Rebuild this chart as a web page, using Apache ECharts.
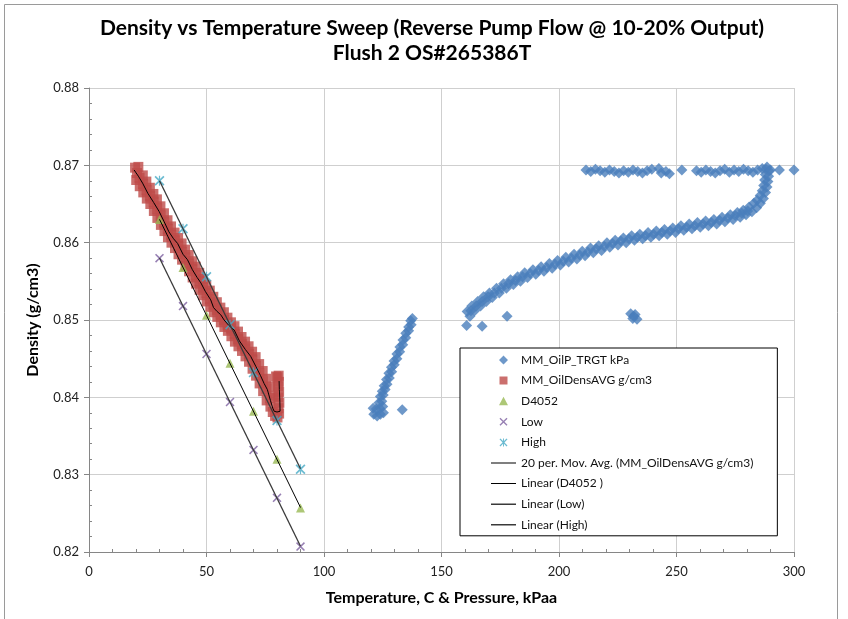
<!DOCTYPE html>
<html>
<head>
<meta charset="utf-8">
<script src="https://cdn.jsdelivr.net/npm/echarts@6/dist/echarts.min.js"></script>
<style>
html,body{margin:0;padding:0;background:#fff;}
#chart{width:848px;height:619px;}
</style>
</head>
<body>
<div id="chart"></div>
<script>
// ---------------- data ----------------
const titleLines = ['Density vs Temperature Sweep (Reverse Pump Flow @ 10-20% Output)', 'Flush 2 OS#265386T'];
const xTitle = 'Temperature, C & Pressure, kPaa';
const yTitle = 'Density (g/cm3)';
const seriesNames = ['MM_OilP_TRGT kPa', 'MM_OilDensAVG g/cm3', 'D4052', 'Low', 'High',
  '20 per. Mov. Avg. (MM_OilDensAVG g/cm3)', 'Linear (D4052 )', 'Linear (Low)', 'Linear (High)'];

// MM_OilP_TRGT kPa : [pressure/temperature, density]
const oilPLower = [
  [121.2,0.8378],[122.6,0.8376],[124.0,0.8378],[125.3,0.8380],
  [120.9,0.8386],[122.3,0.8385],[123.7,0.8386],[125.0,0.8388],
  [123.4,0.8393],[124.6,0.8395],[124.0,0.8401],[125.2,0.8403],
  [124.8,0.8408],[126.0,0.8410],[125.6,0.8415],[126.8,0.8417],
  [126.6,0.8423],[127.8,0.8425],[127.6,0.8431],[128.8,0.8433],
  [128.7,0.8439],[129.9,0.8442],[129.8,0.8447],[131.0,0.8450],
  [131.0,0.8456],[132.2,0.8459],[132.3,0.8465],[133.5,0.8468],
  [133.6,0.8474],[134.8,0.8477],[134.8,0.8483],[136.0,0.8486],
  [136.0,0.8491],[137.1,0.8494],[136.9,0.8499],[137.6,0.8502],
  [133.3,0.8384]
];
const oilPUpper = [
  [160.9,0.8511],[162.1,0.8505],[162.9,0.8518],[164.1,0.8512],[165.4,0.8524],[166.6,0.8518],
  [167.9,0.8530],[169.1,0.8524],[170.4,0.8535],[171.6,0.8529],[173.4,0.8541],[174.6,0.8535],
  [176.4,0.8547],[177.6,0.8541],[179.4,0.8552],[180.6,0.8546],[182.4,0.8556],[183.6,0.8550],
  [185.4,0.8561],[186.6,0.8555],[188.9,0.8565],[190.1,0.8559],[192.4,0.8569],[193.6,0.8563],
  [195.9,0.8573],[197.1,0.8567],[199.4,0.8577],[200.6,0.8571],[202.9,0.8581],[204.1,0.8575],
  [206.4,0.8585],[207.6,0.8579],[209.9,0.8589],[211.1,0.8583],[213.4,0.8593],[214.6,0.8587],
  [216.9,0.8596],[218.1,0.8590],[220.4,0.8600],[221.6,0.8594],[223.9,0.8603],[225.1,0.8597],
  [227.4,0.8606],[228.6,0.8600],[230.9,0.8609],[232.1,0.8603],[234.4,0.8611],[235.6,0.8605],
  [237.9,0.8613],[239.1,0.8607],[241.4,0.8615],[242.6,0.8609],[244.9,0.8617],[246.1,0.8611],
  [248.4,0.8619],[249.6,0.8613],[251.9,0.8622],[253.1,0.8616],[255.4,0.8624],[256.6,0.8618],
  [258.9,0.8626],[260.1,0.8620],[262.4,0.8628],[263.6,0.8622],[265.9,0.8630],[267.1,0.8624],
  [269.4,0.8633],[270.6,0.8627],[272.9,0.8636],[274.1,0.8630],[275.9,0.8639],[277.1,0.8633],
  [278.4,0.8642],[279.6,0.8636],[280.9,0.8646],[282.1,0.8640],[282.9,0.8651],[284.1,0.8645],
  [284.3,0.8655],[285.7,0.8651],[285.6,0.8661],[287.0,0.8657],[286.5,0.8667],[287.9,0.8665],
  [287.1,0.8674],[288.5,0.8672],[287.5,0.8681],[288.9,0.8679],[287.8,0.8688],[289.2,0.8686],
  [288.0,0.8695],[289.4,0.8693]
];
const oilPUpperMid = [
  [162.5,0.8512],[164.8,0.8518],[167.3,0.8524],[169.8,0.8530],[172.5,0.8535],[175.5,0.8541],
  [178.5,0.8547],[181.5,0.8551],[184.5,0.8556],[187.8,0.8560],[191.3,0.8564],[194.8,0.8568],
  [198.3,0.8572],[201.8,0.8576],[205.3,0.8580],[208.8,0.8584],[212.3,0.8588],[215.8,0.8592],
  [219.3,0.8595],[222.8,0.8599],[226.3,0.8602],[229.8,0.8605],[233.3,0.8607],[236.8,0.8609],
  [240.3,0.8611],[243.8,0.8613],[247.3,0.8615],[250.8,0.8618],[254.3,0.8620],[257.8,0.8622],
  [261.3,0.8624],[264.8,0.8626],[268.3,0.8629],[271.8,0.8632],[275.0,0.8635],[277.8,0.8638],
  [280.3,0.8641]
];
const oilPTop = [
  [211.5,0.8694],[213.5,0.8692],[215.5,0.8695],[217.5,0.8693],[219.5,0.8691],[221.5,0.8694],
  [223.5,0.8692],[225.5,0.8690],[227.5,0.8693],[229.5,0.8691],[231.5,0.8694],[233.5,0.8692],
  [235.5,0.8690],[237.5,0.8693],[239.5,0.8695],[242.5,0.8696],[243.5,0.8690],[245.5,0.8692],
  [247.0,0.8689],[252.3,0.8694],[258.5,0.8693],[260.5,0.8691],[262.5,0.8694],[264.5,0.8692],
  [266.5,0.8690],[268.5,0.8693],[270.5,0.8695],[272.5,0.8691],[274.5,0.8694],[276.5,0.8692],
  [278.5,0.8695],[280.5,0.8693],[282.5,0.8691],[284.5,0.8694],[286.5,0.8696],[288.5,0.8698],
  [290.0,0.8694],[293.8,0.8694],[300.0,0.8694]
];
const oilPOutliers = [
  [160.7,0.8493],[167.3,0.8492],[177.9,0.8505],
  [230.5,0.8508],[231.8,0.8505],[233.2,0.8501],[232.4,0.8507],[231.4,0.8502]
];

// MM_OilDensAVG g/cm3 : [temperature, density]
const oilDens = [
  [19.6,0.8697],[21.0,0.8698],[20.4,0.8690],
  [20.1,0.8681],[22.9,0.8687],[21.6,0.8673],[24.4,0.8679],[23.1,0.8665],[25.9,0.8671],
  [24.6,0.8657],[27.4,0.8663],[26.1,0.8650],[28.9,0.8656],[27.6,0.8641],[30.4,0.8647],
  [29.1,0.8632],[31.9,0.8638],[30.6,0.8623],[33.4,0.8629],[32.1,0.8615],[34.9,0.8621],
  [33.6,0.8607],[36.4,0.8613],[35.1,0.8600],[37.9,0.8606],[36.6,0.8593],[39.4,0.8599],
  [38.1,0.8585],[40.9,0.8591],[39.6,0.8578],[42.4,0.8584],[41.1,0.8570],[43.9,0.8576],
  [42.6,0.8563],[45.4,0.8569],[44.1,0.8555],[46.9,0.8561],[45.6,0.8547],[48.4,0.8553],
  [47.1,0.8539],[49.9,0.8545],[48.6,0.8532],[51.4,0.8538],[50.1,0.8524],[52.9,0.8530],
  [51.6,0.8517],[54.4,0.8523],[53.1,0.8510],[55.9,0.8516],[54.6,0.8504],[57.4,0.8510],
  [56.1,0.8497],[58.9,0.8503],[57.6,0.8491],[60.4,0.8497],[59.1,0.8486],[61.9,0.8492],
  [60.6,0.8479],[63.4,0.8485],[62.1,0.8472],[64.9,0.8478],[63.6,0.8466],[66.4,0.8472],
  [65.1,0.8460],[67.9,0.8466],[66.6,0.8453],[69.4,0.8459],[68.1,0.8446],[70.9,0.8452],
  [69.6,0.8437],[72.4,0.8443],[71.1,0.8428],[73.9,0.8434],[72.6,0.8418],[75.4,0.8424],
  [74.1,0.8408],[76.9,0.8414],[75.6,0.8396],[78.4,0.8402],
  [77.2,0.8388],[78.2,0.8381],[79.2,0.8376],[80.2,0.8374],[80.9,0.8379],[80.6,0.8386],
  [81.0,0.8393],[80.5,0.8400],[80.9,0.8407],[80.4,0.8414],[80.8,0.8420],[80.2,0.8426],
  [80.7,0.8428],[79.6,0.8427]
];
const oilDensMid = [
  [21.5,0.8684],[23.0,0.8676],[24.5,0.8668],[26.0,0.8660],[27.5,0.8653],[29.0,0.8644],
  [30.5,0.8635],[32.0,0.8626],[33.5,0.8618],[35.0,0.8610],[36.5,0.8603],[38.0,0.8596],
  [39.5,0.8588],[41.0,0.8581],[42.5,0.8573],[44.0,0.8566],[45.5,0.8558],[47.0,0.8550],
  [48.5,0.8542],[50.0,0.8535],[51.5,0.8527],[53.0,0.8520],[54.5,0.8513],[56.0,0.8507],
  [57.5,0.8500],[59.0,0.8494],[60.5,0.8489],[62.0,0.8482],[63.5,0.8475],[65.0,0.8469],
  [66.5,0.8463],[68.0,0.8456],[69.5,0.8449],[71.0,0.8440],[72.5,0.8431],[74.0,0.8421],
  [75.5,0.8411],[77.0,0.8399]
];

// 20 per. moving average trace of MM_OilDensAVG
const movAvg = [
  [19.2,0.8694],[21.0,0.8686],[22.8,0.8677],[25.0,0.8664],[27.5,0.8652],[29.9,0.8640],
  [32.0,0.8627],[34.0,0.8614],[36.0,0.8605],[37.7,0.8599],[40.0,0.8585],[41.9,0.8578],
  [44.0,0.8565],[46.0,0.8555],[47.6,0.8548],[49.5,0.8537],[51.8,0.8526],[53.0,0.8516],
  [54.5,0.8511],[56.0,0.8507],[57.5,0.8500],[59.5,0.8493],[61.8,0.8487],[64.0,0.8473],
  [66.5,0.8462],[68.8,0.8453],[71.0,0.8440],[73.0,0.8428],[74.5,0.8418],[75.9,0.8410],
  [77.2,0.8396],[78.2,0.8386],[78.8,0.8382],[80.0,0.8381],[81.3,0.8382],[81.2,0.8395],
  [81.0,0.8410],[80.9,0.8421]
];

const d4052 = [[30,0.8630],[40,0.8568],[50,0.8506],[60,0.8444],[70,0.8382],[80,0.8320],[90,0.8257]];
const lowPts = [[30,0.8580],[40,0.8518],[50,0.8456],[60,0.8394],[70,0.8332],[80,0.8270],[90,0.8207]];
const highPts = [[30,0.8680],[40,0.8618],[50,0.8556],[60,0.8494],[70,0.8432],[80,0.8370],[90,0.8307]];

// ---------------- chart ----------------
function linearFit(pts) {
  let n = pts.length, sx = 0, sy = 0, sxx = 0, sxy = 0, mn = Infinity, mx = -Infinity;
  pts.forEach(p => { sx += p[0]; sy += p[1]; sxx += p[0]*p[0]; sxy += p[0]*p[1]; mn = Math.min(mn,p[0]); mx = Math.max(mx,p[0]); });
  const b = (n*sxy - sx*sy) / (n*sxx - sx*sx);
  const a = (sy - b*sx) / n;
  return [[mn, a + b*mn], [mx, a + b*mx]];
}

const FONT = 'Lato, "Liberation Sans", sans-serif';
const xMark = 'path://M0,1.2L1.2,0L5,3.8L8.8,0L10,1.2L6.2,5L10,8.8L8.8,10L5,6.2L1.2,10L0,8.8L3.8,5Z';
const starMark = 'path://M0,1.2L1.2,0L5,3.8L8.8,0L10,1.2L6.2,5L10,8.8L8.8,10L5,6.2L1.2,10L0,8.8L3.8,5Z M4.4,0L5.6,0L5.6,10L4.4,10Z';

// legend icons (25 x 14 box, tiny corner dots fix the bounding box)
const BOX = 'M0,0h0.01v0.01h-0.01z M24.99,13.99h0.01v0.01h-0.01z ';
const lgDiamond = 'path://' + BOX + 'M12.5,2.5L17,7L12.5,11.5L8,7Z';
const lgSquare = 'path://' + BOX + 'M8.5,3h8v8h-8z';
const lgTriangle = 'path://' + BOX + 'M12.5,2.6L17,11L8,11Z';
const lgX = 'path://' + BOX + 'M8.5,3.96L9.46,3L12.5,6.04L15.54,3L16.5,3.96L13.46,7L16.5,10.04L15.54,11L12.5,7.96L9.46,11L8.5,10.04L11.54,7Z';
const lgStar = lgX + ' M12.02,3L12.98,3L12.98,11L12.02,11Z';
const lgLine = 'path://' + BOX + 'M0,6.5h25v1h-25z';
const lgLine2 = 'path://' + BOX + 'M0,6.3h25v1.4h-25z';
const legendIcons = [lgDiamond, lgSquare, lgTriangle, lgX, lgStar, lgLine, lgLine, lgLine2, lgLine2];

const chart = echarts.init(document.getElementById('chart'), null, {renderer: 'canvas'});
const axisCol = '#868686';
const gridCol = '#cfcfcf';

chart.setOption({
  animation: false,
  backgroundColor: '#fff',
  textStyle: {fontFamily: FONT},
  graphic: [
    {type: 'rect', shape: {x: 4.5, y: 4.5, width: 833, height: 640}, style: {fill: 'none', stroke: '#9a9a9a', lineWidth: 1}, silent: true, z: -10},
    {type: 'text', x: 432, y: 28, style: {text: titleLines[0], font: 'bold 21px ' + FONT, fill: '#000', textAlign: 'center', textVerticalAlign: 'middle'}, z: 10},
    {type: 'text', x: 432, y: 53, style: {text: titleLines[1], font: 'bold 21px ' + FONT, fill: '#000', textAlign: 'center', textVerticalAlign: 'middle'}, z: 10}
  ],
  grid: {left: 89, right: 54, top: 88, bottom: 67, containLabel: false},
  xAxis: [
    {type: 'value', min: 0, max: 300, interval: 50,
     name: xTitle, nameLocation: 'middle', nameGap: 38,
     nameTextStyle: {fontFamily: FONT, fontWeight: 'bold', fontSize: 16, color: '#000'},
     axisLine: {show: true, onZero: false, lineStyle: {color: axisCol, width: 1}},
     axisTick: {show: true, length: 5, lineStyle: {color: axisCol}},
     minorTick: {show: false},
     axisLabel: {margin: 13, fontSize: 13, color: '#222', fontFamily: FONT},
     splitLine: {show: true, lineStyle: {color: gridCol, width: 1}}},
    {type: 'value', min: 0, max: 300, interval: 50, position: 'bottom', offset: 0,
     axisLine: {show: false}, axisLabel: {show: false}, splitLine: {show: false},
     axisTick: {show: false, inside: true},
     minorTick: {show: true, splitNumber: 5, length: 3, lineStyle: {color: axisCol}}}
  ],
  yAxis: [
    {type: 'value', min: 0.82, max: 0.88, interval: 0.01,
     name: yTitle, nameLocation: 'middle', nameGap: 48, nameRotate: 90,
     nameTextStyle: {fontFamily: FONT, fontWeight: 'bold', fontSize: 16, color: '#000'},
     axisLine: {show: true, onZero: false, lineStyle: {color: axisCol, width: 1}},
     axisTick: {show: true, length: 5, lineStyle: {color: axisCol}},
     axisLabel: {margin: 10, fontSize: 13, color: '#222', fontFamily: FONT, formatter: v => v.toFixed(2)},
     splitLine: {show: true, lineStyle: {color: gridCol, width: 1}}},
    {type: 'value', min: 0.82, max: 0.88, interval: 0.01, position: 'left', offset: 0,
     axisLine: {show: false}, axisLabel: {show: false}, splitLine: {show: false},
     axisTick: {show: false, inside: true},
     minorTick: {show: true, splitNumber: 5, length: 3, lineStyle: {color: axisCol}}}
  ],
  legend: {
    orient: 'vertical', left: 460, top: 348,
    backgroundColor: '#fff', borderColor: '#000', borderWidth: 1, borderRadius: 0,
    padding: [5, 24, 4, 31], itemGap: 6.6, itemWidth: 25, itemHeight: 14,
    textStyle: {fontSize: 12, color: '#111', fontFamily: FONT},
    data: seriesNames.map((n, i) => ({name: n, icon: legendIcons[i]}))
  },
  series: [
    {name: seriesNames[0], type: 'scatter', symbol: 'diamond', symbolSize: 11,
     itemStyle: {color: '#4a7ebb'},
     data: oilPLower.concat(oilPUpper, oilPUpperMid, oilPTop, oilPOutliers), z: 2},
    {name: seriesNames[1], type: 'scatter', symbol: 'rect', symbolSize: 10,
     itemStyle: {color: '#be4b48'}, data: oilDens.concat(oilDensMid), z: 3},
    {name: seriesNames[2], type: 'scatter', symbol: 'triangle', symbolSize: 9,
     itemStyle: {color: '#98b954'}, data: d4052, z: 4},
    {name: seriesNames[3], type: 'scatter', symbol: xMark, symbolSize: 9,
     itemStyle: {color: '#7d60a0'}, data: lowPts, z: 5},
    {name: seriesNames[4], type: 'scatter', symbol: starMark, symbolSize: 10,
     itemStyle: {color: '#46aac5'}, data: highPts, z: 6},
    {name: seriesNames[5], type: 'line', symbol: 'none', data: movAvg,
     lineStyle: {color: '#000', width: 1}, itemStyle: {color: '#000'}, z: 10},
    {name: seriesNames[6], type: 'line', symbol: 'none', data: linearFit(d4052),
     lineStyle: {color: '#000', width: 1}, itemStyle: {color: '#000'}, z: 10},
    {name: seriesNames[7], type: 'line', symbol: 'none', data: linearFit(lowPts),
     lineStyle: {color: '#3a3a3a', width: 1.3}, itemStyle: {color: '#3a3a3a'}, z: 10},
    {name: seriesNames[8], type: 'line', symbol: 'none', data: linearFit(highPts),
     lineStyle: {color: '#3a3a3a', width: 1.3}, itemStyle: {color: '#3a3a3a'}, z: 10}
  ]
});
</script>
</body>
</html>
